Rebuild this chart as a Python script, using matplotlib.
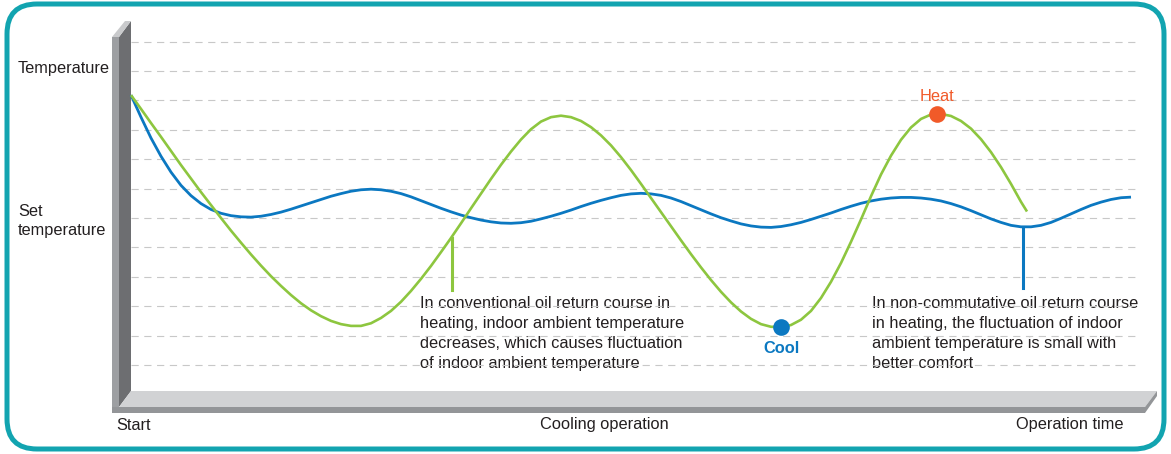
import numpy as np
import matplotlib.pyplot as plt
from matplotlib.patches import FancyBboxPatch, Polygon

plt.rcParams['font.family'] = ['Liberation Sans', 'DejaVu Sans']

# temperature offset from the set point (grid step = 10) against operation time
t_blue = np.arange(0, 101, 1.0)
temp_blue = [41.8, 34.3, 27.2, 21.0, 15.6, 11.1, 7.6, 4.9, 2.9, 1.6,
             0.8, 0.4, 0.3, 0.6, 1.2, 2.0, 3.0, 4.1, 5.2, 6.3,
             7.4, 8.3, 9.1, 9.6, 9.8, 9.6, 9.1, 8.3, 7.2, 5.9,
             4.6, 3.3, 2.1, 1.0, 0.1, -0.7, -1.3, -1.7, -1.8, -1.6,
             -1.1, -0.3, 0.6, 1.6, 2.7, 3.9, 5.0, 6.0, 6.9, 7.7,
             8.2, 8.4, 8.2, 7.7, 6.8, 5.6, 4.2, 2.8, 1.4, 0.1,
             -1.0, -2.0, -2.7, -3.1, -3.2, -2.9, -2.3, -1.5, -0.5, 0.6,
             1.7, 2.9, 4.0, 5.0, 5.8, 6.4, 6.8, 7.0, 7.0, 6.8,
             6.4, 5.8, 4.9, 3.8, 2.5, 1.1, -0.3, -1.5, -2.5, -3.0,
             -3.0, -2.5, -1.5, -0.1, 1.4, 2.9, 4.3, 5.4, 6.3, 6.9, 7.1]

t_green = list(np.arange(0, 90, 1.0)) + [89.6]
temp_green = [41.8, 37.1, 32.3, 27.6, 22.8, 18.0, 13.4, 8.8, 4.4, 0.0,
              -4.3, -8.4, -12.4, -16.2, -19.8, -23.1, -26.2, -29.0, -31.4, -33.4,
              -35.0, -36.1, -36.7, -36.7, -35.8, -34.0, -31.6, -28.5, -24.8, -20.7,
              -16.3, -11.6, -6.8, -1.8, 3.3, 8.3, 13.3, 18.1, 22.6, 26.7,
              30.2, 32.8, 34.3, 34.8, 34.3, 33.0, 30.9, 28.1, 24.7, 20.7,
              16.3, 11.6, 6.8, 2.0, -2.8, -7.6, -12.3, -16.8, -21.1, -25.1,
              -28.7, -31.8, -34.3, -36.1, -37.0, -37.1, -36.4, -34.6, -31.6, -27.2,
              -21.7, -15.3, -8.1, -0.5, 7.4, 14.8, 21.2, 26.6, 30.8, 33.7,
              35.2, 35.4, 34.7, 33.0, 30.4, 26.8, 22.4, 17.3, 11.6, 5.5, 2.2]

cool_t, cool_temp = 65.0, -37.1
heat_t, heat_temp = 80.6, 35.5

# leader lines: (time, start temp, end temp)
green_leader = (32.1, -6.8, -24.5)
blue_leader = (89.2, -3.1, -23.8)

grid_levels = np.arange(-50, 61, 10)

left_note = ["In conventional oil return course in",
             "heating, indoor ambient temperature",
             "decreases, which causes fluctuation",
             "of indoor ambient temperature"]
right_note = ["In non-commutative oil return course",
              "in heating, the fluctuation of indoor",
              "ambient temperature is small with",
              "better comfort"]

GREEN = '#8dc63f'
BLUE = '#0b78c1'
TEAL = '#12a4b0'
TXT = '#231f20'
FS = 11.8

W, H = 1171, 454
fig = plt.figure(figsize=(W / 100, H / 100), dpi=100)
fig.patch.set_facecolor('white')

# background in pixel units: frame, wall, floor, labels
bg = fig.add_axes([0, 0, 1, 1])
bg.set_xlim(0, W)
bg.set_ylim(H, 0)
bg.axis('off')

bg.add_patch(FancyBboxPatch((7, 4), 1157, 445, boxstyle='round,pad=0,rounding_size=30',
                            fc='white', ec=TEAL, lw=3.6))

# wall
bg.add_patch(Polygon([(112, 37), (119, 37), (119, 413), (112, 413)], closed=True,
                     fc='#9d9fa2', ec='none'))
bg.add_patch(Polygon([(119, 37), (131, 21), (131, 391), (119, 407)], closed=True,
                     fc='#6d6e71', ec='none'))
bg.add_patch(Polygon([(112, 37), (125, 21), (131, 21), (119, 37)], closed=True,
                     fc='#c9cacc', ec='none'))
# floor
bg.add_patch(Polygon([(131, 391), (1157, 391), (1145, 407), (119, 407)], closed=True,
                     fc='#d1d2d4', ec='none'))
bg.add_patch(Polygon([(112, 407), (1145, 407), (1157, 391), (1157, 396), (1145, 413), (112, 413)],
                     closed=True, fc='#939598', ec='none'))

bg.text(18, 69, "Temperature", fontsize=FS, color=TXT, va='center', ha='left')
bg.text(18, 211, "Set", fontsize=FS, color=TXT, va='center', ha='left')
bg.text(18, 230, "temperature", fontsize=FS, color=TXT, va='center', ha='left')
bg.text(116, 425, "Start", fontsize=FS, color=TXT, va='center', ha='left')
bg.text(604, 425, "Cooling operation", fontsize=FS, color=TXT, va='center', ha='center')
bg.text(1123, 425, "Operation time", fontsize=FS, color=TXT, va='center', ha='right')

for i, line in enumerate(left_note):
    bg.text(420, 303 + i * 20.3, line, fontsize=FS, color=TXT, va='center', ha='left')
for i, line in enumerate(right_note):
    bg.text(872, 303 + i * 20.3, line, fontsize=FS, color=TXT, va='center', ha='left')

# chart in time / temperature units
ax = fig.add_axes([0, 0, 1, 1])
ax.patch.set_alpha(0)
ax.axis('off')
ax.set_xlim(-13.1, 104.0)
ax.set_ylim(-80.27, 74.15)

ax.hlines(grid_levels, 0, 100.9, colors='#c8c8c8', linewidth=0.8,
          linestyles=(0, (6.5, 5)), zorder=1)

ax.plot(t_blue, temp_blue, color=BLUE, lw=2.0, zorder=3, solid_capstyle='butt',
        solid_joinstyle='round')
ax.plot(t_green, temp_green, color=GREEN, lw=1.9, zorder=4, solid_capstyle='butt',
        solid_joinstyle='round')

ax.plot([green_leader[0]] * 2, green_leader[1:], color=GREEN, lw=2.2, zorder=4)
ax.plot([blue_leader[0]] * 2, blue_leader[1:], color=BLUE, lw=2.2, zorder=3)

ax.plot(cool_t, cool_temp, 'o', color=BLUE, ms=12, mec='none', zorder=5)
ax.plot(heat_t, heat_temp, 'o', color='#f15a29', ms=12, mec='none', zorder=5)
ax.annotate("Cool", (cool_t, cool_temp), xytext=(0.5, -15.5), textcoords='offset points',
            ha='center', va='center', fontsize=FS, fontweight='bold', color=BLUE)
ax.annotate("Heat", (heat_t, heat_temp), xytext=(0.3, 12), textcoords='offset points',
            ha='center', va='center', fontsize=FS, color='#f15a29')

fig.savefig("out.png", dpi=100)
